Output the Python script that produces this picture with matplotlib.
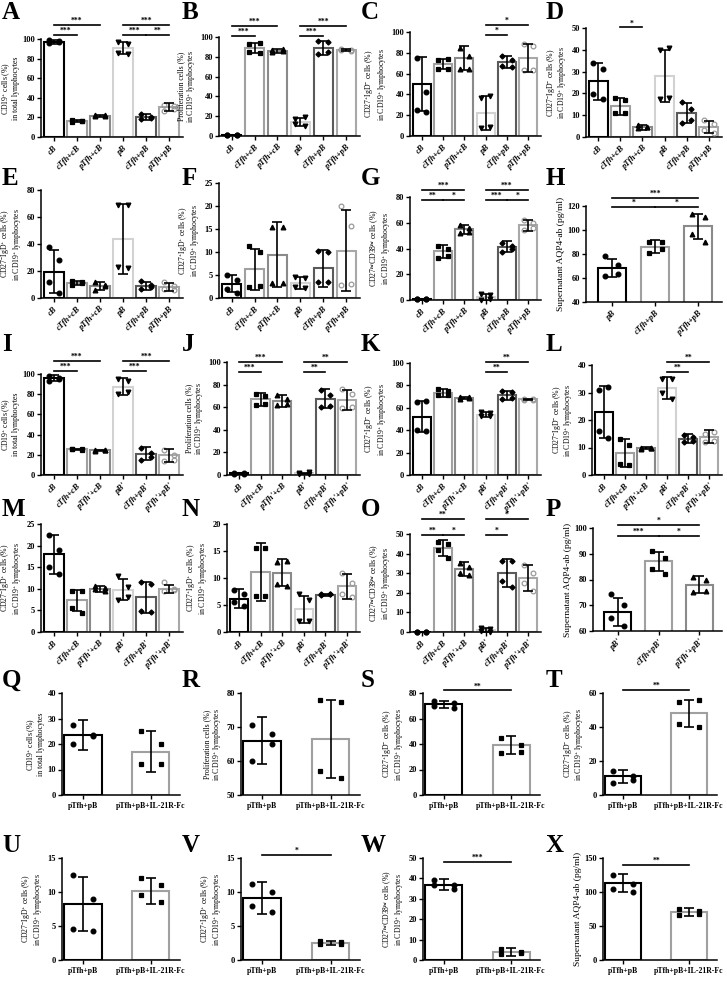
import numpy as np
import matplotlib
matplotlib.use('Agg')
import matplotlib.pyplot as plt

plt.rcParams['font.family'] = ['Liberation Serif', 'DejaVu Serif']
plt.rcParams['font.weight'] = 'bold'
plt.rcParams['mathtext.fontset'] = 'custom'
plt.rcParams['mathtext.rm'] = 'Liberation Serif:bold'
plt.rcParams['mathtext.it'] = 'Liberation Serif:italic:bold'
plt.rcParams['mathtext.bf'] = 'Liberation Serif:bold'
plt.rcParams['axes.linewidth'] = 1.1

# group names
groups_c = ['cB', 'cTfh+cB', 'pTfh+cB', 'pB', 'cTfh+pB', 'pTfh+pB']
groups_p = ['cB', 'cTfh+cB', "pTfh'+cB", "pB'", "cTfh+pB'", "pTfh'+pB'"]
groups_h = ['pB', 'cTfh+pB', 'pTfh+pB']
groups_hp = ["pB'", "cTfh+pB'", "pTfh'+pB'"]
groups_fc = ['pTfh+pB', 'pTfh+pB+IL-21R-Fc']

# y labels
lab_cd19 = 'CD19$^{+}$ cells (%)\nin total lymphocytes'
lab_prol = 'Proliferation cells (%)\nin CD19$^{+}$ lymphocytes'
lab_pm = 'CD27$^{+}$IgD$^{-}$ cells (%)\nin CD19$^{+}$ lymphocytes'
lab_mm = 'CD27$^{-}$IgD$^{-}$ cells (%)\nin CD19$^{+}$ lymphocytes'
lab_mp = 'CD27$^{-}$IgD$^{+}$ cells (%)\nin CD19$^{+}$ lymphocytes'
lab_pp = 'CD27$^{+}$IgD$^{+}$ cells (%)\nin CD19$^{+}$ lymphocytes'
lab_hi = 'CD27$^{hi}$CD38$^{hi}$ cells (%)\nin CD19$^{+}$ lymphocytes'
lab_aqp = 'Supernatant AQP4-ab (pg/ml)'

# ---- data: means, sd, individual points, significance (i, j, y, text)
A_means = [97, 16, 21.5, 91, 20.5, 30.5]
A_sd = [2, 1, 0.7, 6, 3, 4]
A_pts = [[99, 97, 96, 98], [15, 16, 17, 16], [21, 22, 22, 21.5], [97, 95, 86, 85], [23, 20, 18, 19], [33, 32, 27, 29]]
A_sig = [(0, 2, 114, '***'), (0, 1, 104, '***'), (3, 5, 114, '***'), (3, 4, 104, '***'), (4, 5, 104, '**')]

B_means = [1, 89, 86, 14, 89, 87]
B_sd = [0.3, 5, 2, 4, 7, 1]
B_pts = [[1, 1, 1, 1], [93, 94, 85, 84], [87, 88, 85, 86], [17, 19, 12, 10], [96, 95, 83, 85], [87, 87, 88, 86]]
B_sig = [(0, 2, 111, '***'), (0, 1, 101, '***'), (3, 5, 111, '***'), (3, 4, 101, '***')]

C_means = [50, 69, 75, 22, 71, 75]
C_sd = [26, 5, 12, 16, 6, 13]
C_pts = [[75, 42, 25, 23], [73, 74, 64, 64], [85, 64, 64, 77], [37, 38, 8, 9], [77, 66, 67, 73], [88, 87, 63, 63]]
C_sig = [(3, 5, 107, '*'), (3, 4, 97, '*')]

D_means = [25.5, 14, 4.5, 28, 11, 4.5]
D_sd = [8.5, 3.8, 1.1, 12, 4.8, 2.7]
D_pts = [[34, 17.5, 19.5, 31], [18, 17, 11, 11], [5.5, 4.5, 4, 4.8], [40, 41, 17.5, 18], [16, 13, 6.5, 8], [8, 6, 3, 2]]
D_sig = [(1, 2, 50.3, '*')]

E_means = [19.5, 11, 9, 44, 9, 8]
E_sd = [16, 1.6, 3.2, 26, 3, 3]
E_pts = [[38, 28, 12, 4], [12.5, 11, 10, 11.5], [12, 10, 6, 9], [69, 69, 23, 22], [12.5, 10, 7, 8], [12, 9, 7, 6]]
E_sig = []

F_means = [3.1, 6.2, 9.4, 3.3, 6.5, 10.3]
F_sd = [1.8, 4.5, 7.1, 1.3, 4, 8.8]
F_pts = [[5, 4, 2, 1], [11.2, 10, 2.5, 2.6], [15.5, 15.4, 3.2, 3.3], [4.6, 4.3, 2.5, 2.2], [10.3, 10.1, 3.4, 3.4], [20, 15.7, 2.8, 3]]
F_sig = []

G_means = [0.5, 38, 55, 2, 41.5, 58]
G_sd = [0.3, 5, 3.5, 3, 4, 4.5]
G_pts = [[0.5, 0.6, 0.4, 0.5], [42, 40, 33, 34], [58, 56, 52, 53], [5, 4, 0, 1], [44, 42, 37, 40], [62, 60, 54, 56]]
G_sig = [(0, 2, 85.5, '***'), (0, 1, 77.7, '**'), (1, 2, 77.7, '*'),
         (3, 5, 85.5, '***'), (3, 4, 77.7, '***'), (4, 5, 77.7, '*')]

H_means = [68, 86, 103]
H_sd = [7.5, 5.5, 10.5]
H_pts = [[78, 71, 62, 63], [90, 90, 81, 84], [113, 111, 97, 90]]
H_sig = [(0, 2, 127, '***'), (0, 1, 119.5, '*'), (1, 2, 119.5, '*')]

I_means = [96, 25.5, 24.5, 87.5, 21, 19.5]
I_sd = [3, 0.7, 0.7, 8.5, 6.5, 6.5]
I_pts = [[98, 96, 93, 95], [26, 25, 26, 25.5], [24, 25, 25, 24.5], [95, 93, 80, 82], [27, 22, 15, 18], [25, 20, 14, 15]]
I_sig = [(0, 2, 113, '***'), (0, 1, 103, '***'), (3, 5, 113, '***'), (3, 4, 103, '***')]

J_means = [1.5, 67, 65.5, 1.5, 67.5, 66.5]
J_sd = [0.5, 6, 5, 0.5, 8.5, 9]
J_pts = [[2, 1, 1, 2], [72, 70, 62, 63], [71, 67, 62, 63], [2, 1, 1, 2.5], [75, 71, 60, 61], [76, 72, 59, 60]]
J_sig = [(0, 2, 100, '***'), (0, 1, 91, '***'), (3, 5, 100, '**'), (3, 4, 91, '**')]

K_means = [52, 73, 69, 54, 71, 67.5]
K_sd = [14, 3.5, 1, 2, 4, 0.5]
K_pts = [[65, 66, 40, 39], [77, 75, 71, 71], [70, 69, 68, 70], [56, 55, 53, 53], [75, 74, 68, 69], [67, 67, 68, 68]]
K_sig = [(3, 5, 101, '**'), (3, 4, 92, '**')]

L_means = [23, 8, 9.8, 31.5, 13.2, 14]
L_sd = [9.5, 5, 0.3, 4, 1.7, 2.2]
L_pts = [[31, 32, 16, 13.5], [13, 11, 4, 3.5], [10, 10, 9.5, 9.8], [35, 35, 30, 27.5], [14.5, 14, 12, 12.5], [15, 15.5, 12, 12.5]]
L_sig = [(3, 5, 41.2, '**'), (3, 4, 37.6, '**')]

M_means = [18, 7.3, 10, 9.8, 8, 10]
M_sd = [4.5, 2.4, 0.7, 2.5, 3.5, 0.9]
M_pts = [[22.5, 19, 15, 13.5], [9.5, 9.5, 5.5, 4.5], [10.7, 10.3, 10, 9.6], [13, 10.5, 7.5, 8], [11.5, 11, 4.8, 4.7], [11.5, 10, 9.5, 9.8]]
M_sig = []

N_means = [6.2, 11.1, 11, 4.2, 6.9, 8.5]
N_sd = [1.7, 5.3, 2.5, 2.5, 0.2, 2.3]
N_pts = [[7.8, 7, 5.5, 4.8], [15.5, 15.6, 6.7, 6.7], [13, 13.2, 8.8, 8.6], [7, 6, 2, 2], [7, 7, 6.8, 7], [11, 9, 7, 6.5]]
N_sig = []

O_means = [0.1, 43, 32, 1, 30, 27.5]
O_sd = [0.1, 4, 3.5, 1, 7, 6.5]
O_pts = [[0, 0, 0, 0], [46, 45, 42, 38], [35, 33, 30, 29], [2, 1.5, 0.5, 0], [36, 36, 26, 23], [34, 30, 25, 21]]
O_sig = [(0, 2, 57.6, '**'), (0, 1, 49.5, '**'), (1, 2, 49.5, '*'), (3, 5, 57.6, '*'), (3, 4, 49.5, '*')]

P_means = [67.5, 87, 78]
P_sd = [5.5, 3.8, 3.2]
P_pts = [[74.5, 70, 65, 62], [91, 88.5, 84, 82], [81, 80, 75, 75.5]]
P_sig = [(0, 2, 101.2, '*'), (0, 1, 97, '***'), (1, 2, 97, '*')]

Q_means = [23.5, 17]
Q_sd = [6, 8]
Q_pts = [[27.5, 23, 20, 23.5], [25, 20, 12, 12]]
R_means = [66, 66.5]
R_sd = [7, 11.5]
R_pts = [[70.5, 68, 60, 65], [78, 77.5, 57, 55]]
S_means = [71, 39]
S_sd = [3, 7]
S_pts = [[74, 72, 70, 68], [45, 39, 33, 34]]
S_sig = [(0, 1, 82, '**')]
T_means = [11, 48]
T_sd = [4, 8]
T_pts = [[14, 11, 7, 9], [55, 56, 42, 40]]
T_sig = [(0, 1, 62, '**')]
U_means = [8.2, 10.2]
U_sd = [4, 1.9]
U_pts = [[12.5, 9, 4.5, 4.2], [12, 11, 9.5, 8.5]]
V_means = [9.1, 2.5]
V_sd = [2.3, 0.3]
V_pts = [[11.2, 10, 8, 7], [2.8, 2.6, 2.4, 2.3]]
V_sig = [(0, 1, 15.5, '*')]
W_means = [37, 4]
W_sd = [2.5, 2]
W_pts = [[39, 37, 37, 35], [5.5, 3.5, 3, 4]]
W_sig = [(0, 1, 48, '***')]
X_means = [113, 70]
X_sd = [13, 6]
X_pts = [[125, 112, 104, 100], [75, 72, 66, 67]]
X_sig = [(0, 1, 140, '**')]

# ---- styles
col6 = ['#000000', '#a0a0a0', '#8a8a8a', '#d2d2d2', '#5a5a5a', '#a8a8a8']
mk6 = [('o', 'k'), ('s', 'k'), ('^', 'k'), ('v', 'k'), ('D', 'k'), ('o', 'none')]
col3 = ['#000000', '#a0a0a0', '#8a8a8a']
mk3 = [('o', 'k'), ('s', 'k'), ('^', 'k')]
col2 = ['#000000', '#a0a0a0']
mk2 = [('o', 'k'), ('s', 'k')]

W_PX, H_PX = 727, 989
fig = plt.figure(figsize=(W_PX / 100, H_PX / 100), dpi=100)


def rect(l, t, r, b):
    return [l / W_PX, 1 - b / H_PX, (r - l) / W_PX, (b - t) / H_PX]


panels = [
    ('A', (41, 39, 183, 137), groups_c, A_means, A_sd, A_pts, (0, 100), 20, lab_cd19, A_sig, 6),
    ('B', (219, 37, 360, 136), groups_c, B_means, B_sd, B_pts, (0, 100), 20, lab_prol, B_sig, 6),
    ('C', (410, 32, 541, 136), groups_c, C_means, C_sd, C_pts, (0, 100), 20, lab_pm, C_sig, 6),
    ('D', (586, 28, 722, 137), groups_c, D_means, D_sd, D_pts, (0, 50), 10, lab_mm, D_sig, 6),
    ('E', (41, 190, 183, 298), groups_c, E_means, E_sd, E_pts, (0, 80), 20, lab_mp, E_sig, 6),
    ('F', (219, 183, 360, 298), groups_c, F_means, F_sd, F_pts, (0, 25), 5, lab_pp, F_sig, 6),
    ('G', (410, 197, 541, 300), groups_c, G_means, G_sd, G_pts, (0, 80), 20, lab_hi, G_sig, 6),
    ('H', (586, 206, 722, 302), groups_h, H_means, H_sd, H_pts, (40, 120), 20, lab_aqp, H_sig, 3),
    ('I', (41, 374, 183, 475), groups_p, I_means, I_sd, I_pts, (0, 100), 20, lab_cd19, I_sig, 6),
    ('J', (227, 362, 360, 475), groups_p, J_means, J_sd, J_pts, (0, 100), 20, lab_prol, J_sig, 6),
    ('K', (410, 363, 541, 475), groups_p, K_means, K_sd, K_pts, (0, 100), 20, lab_pm, K_sig, 6),
    ('L', (592, 365, 722, 475), groups_p, L_means, L_sd, L_pts, (0, 40), 10, lab_mm, L_sig, 6),
    ('M', (41, 524, 183, 632), groups_p, M_means, M_sd, M_pts, (0, 25), 5, lab_mp, M_sig, 6),
    ('N', (227, 524, 360, 632), groups_p, N_means, N_sd, N_pts, (0, 20), 5, lab_pp, N_sig, 6),
    ('O', (410, 534, 541, 632), groups_p, O_means, O_sd, O_pts, (0, 50), 10, lab_hi, O_sig, 6),
    ('P', (593, 528, 722, 631), groups_hp, P_means, P_sd, P_pts, (60, 100), 10, lab_aqp, P_sig, 3),
    ('Q', (62, 693, 180, 795), groups_fc, Q_means, Q_sd, Q_pts, (0, 40), 10, lab_cd19, [], 2),
    ('R', (241, 693, 360, 795), groups_fc, R_means, R_sd, R_pts, (50, 80), 10, lab_prol, [], 2),
    ('S', (423, 693, 540, 795), groups_fc, S_means, S_sd, S_pts, (0, 80), 20, lab_pm, S_sig, 2),
    ('T', (603, 693, 717, 795), groups_fc, T_means, T_sd, T_pts, (0, 60), 20, lab_mm, T_sig, 2),
    ('U', (62, 858, 180, 960), groups_fc, U_means, U_sd, U_pts, (0, 15), 5, lab_mp, [], 2),
    ('V', (241, 858, 360, 960), groups_fc, V_means, V_sd, V_pts, (0, 15), 5, lab_pp, V_sig, 2),
    ('W', (423, 858, 540, 960), groups_fc, W_means, W_sd, W_pts, (0, 50), 10, lab_hi, W_sig, 2),
    ('X', (603, 858, 717, 960), groups_fc, X_means, X_sd, X_pts, (0, 150), 50, lab_aqp, X_sig, 2),
]

letter_pos = {'A': (2, 1), 'B': (182, 1), 'C': (361, 1), 'D': (546, 1),
              'E': (2, 167), 'F': (182, 167), 'G': (361, 167), 'H': (546, 167),
              'I': (2, 333), 'J': (182, 333), 'K': (361, 333), 'L': (546, 333),
              'M': (2, 498), 'N': (182, 498), 'O': (361, 498), 'P': (546, 498),
              'Q': (2, 669), 'R': (182, 669), 'S': (361, 669), 'T': (546, 669),
              'U': (2, 834), 'V': (182, 834), 'W': (361, 834), 'X': (546, 834)}

for (ch, box, names, means, sds, pts, ylim, step, ylab, sig, kind) in panels:
    ax = fig.add_axes(rect(*box))
    n = len(names)
    x = np.arange(n)
    if kind == 6:
        cols, mks, width, xl = col6, mk6, 0.85, (-0.55, 5.6)
        offs = [-0.22, 0.22, -0.22, 0.22]
    elif kind == 3:
        cols, mks, width, xl = col3, mk3, 0.64, (-0.6, 2.55)
        offs = [-0.15, 0.15, -0.15, 0.15]
    else:
        cols, mks, width, xl = col2, mk2, 0.55, (-0.31, 1.43)
        offs = [-0.15, 0.15, -0.15, 0.15]
    ax.bar(x, means, width=width, color='white', edgecolor=cols, linewidth=1.5, zorder=2)
    for i in range(n):
        m, fc = mks[i]
        ms = 2.6 if m == 'D' else 3.4
        ec = '#999999' if fc == 'none' else 'k'
        ax.plot(np.array(offs) + i, pts[i], ls='none', marker=m, ms=ms, mfc=fc,
                mec=ec, mew=0.9, zorder=4, clip_on=False)
    ax.errorbar(x, means, yerr=sds, fmt='none', ecolor='black', elinewidth=1.2,
                capsize=3.5, capthick=1.2, zorder=5)
    ax.set_xlim(*xl)
    ax.set_ylim(*ylim)
    ax.set_yticks(np.arange(ylim[0], ylim[1] + 0.01, step))
    ax.set_xticks(x)
    if kind == 2:
        ax.set_xticklabels(names, fontsize=5.6)
    else:
        ax.set_xticklabels(names, fontsize=6, rotation=45, ha='right',
                           rotation_mode='anchor', style='italic')
    ax.tick_params(axis='y', labelsize=6, length=3, width=1, pad=1.2)
    ax.tick_params(axis='x', length=3, width=1, pad=2)
    ax.spines['top'].set_visible(False)
    ax.spines['right'].set_visible(False)
    ax.set_ylabel(ylab, fontsize=5.6 if '\n' in ylab else 6.8, labelpad=2, linespacing=1.0)
    for i, j, y, t in sig:
        ax.plot([i, j], [y, y], color='black', lw=1.2, clip_on=False, zorder=6)
        ax.text((i + j) / 2, y, t, ha='center', va='bottom', fontsize=5.5)
    lx, ly = letter_pos[ch]
    fig.text(lx / W_PX, 1 - ly / H_PX, ch, fontsize=18, fontweight='bold', va='top', ha='left')

fig.savefig('out.png', dpi=100)
